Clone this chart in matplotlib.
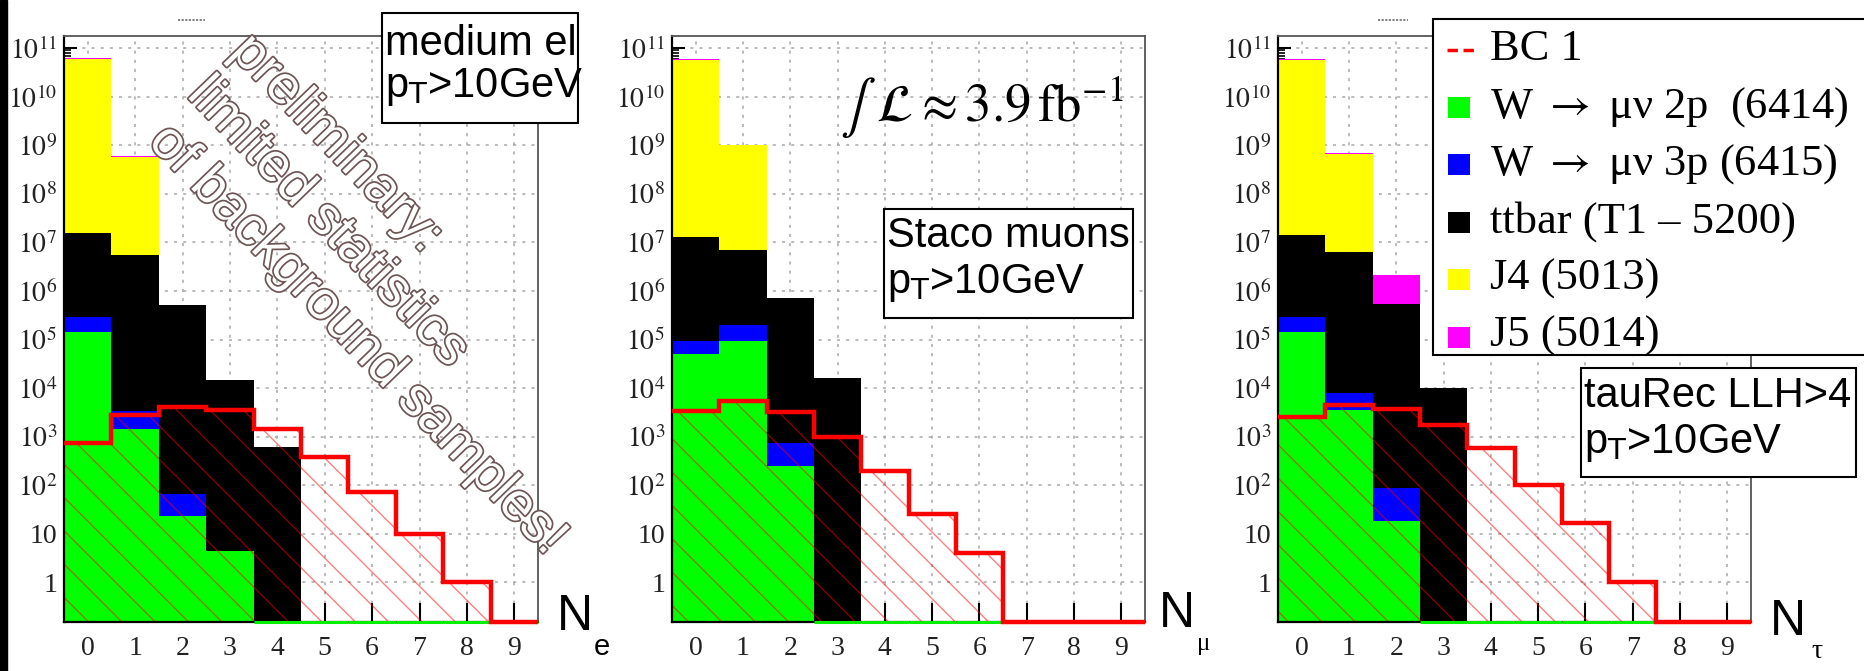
import numpy as np
import matplotlib
matplotlib.use("Agg")
import matplotlib.pyplot as plt
import matplotlib.patheffects as pe
from matplotlib.patches import Rectangle
from matplotlib.lines import Line2D
from matplotlib.transforms import Affine2D
from matplotlib.ticker import FixedLocator, FuncFormatter, NullFormatter

plt.rcParams['font.family'] = ['Liberation Serif', 'DejaVu Serif']
plt.rcParams['mathtext.fontset'] = 'stix'
plt.rcParams['hatch.linewidth'] = 1.0

# multiplicity bins 0..9
n_obj = np.arange(10)
edges = np.arange(11) - 0.5

sample_names = ["W $\\rightarrow$ \u03bc\u03bd 2p  (6414)",
                "W $\\rightarrow$ \u03bc\u03bd 3p (6415)",
                "ttbar (T1 \u2013 5200)", "J4 (5013)", "J5 (5014)"]
sample_colors = ["#00ff00", "#0000ff", "#000000", "#ffff00", "#ff00ff"]
signal_name = "BC 1"

# electrons
w2p_e = [1.43e5, 1.44e3, 23, 4.4, 0, 0, 0, 0, 0, 0]
w3p_e = [1.47e5, 2.0e3, 43, 0, 0, 0, 0, 0, 0, 0]
ttbar_e = [1.54e7, 5.5e6, 5.2e5, 1.5e4, 620, 0, 0, 0, 0, 0]
j4_e = [5.9e10, 5.7e8, 0, 0, 0, 0, 0, 0, 0, 0]
j5_e = [3.5e9, 3.5e7, 0, 0, 0, 0, 0, 0, 0, 0]
bc1_e = [727, 2.8e3, 4.1e3, 3.5e3, 1.44e3, 386, 74, 10, 1, 0]

# muons
w2p_m = [5.0e4, 9.5e4, 250, 0, 0, 0, 0, 0, 0, 0]
w3p_m = [4.3e4, 1.05e5, 480, 0, 0, 0, 0, 0, 0, 0]
ttbar_m = [1.29e7, 6.8e6, 7.3e5, 1.6e4, 0, 0, 0, 0, 0, 0]
j4_m = [5.8e10, 1.0e9, 0, 0, 0, 0, 0, 0, 0, 0]
j5_m = [3.5e9, 0, 0, 0, 0, 0, 0, 0, 0, 0]
bc1_m = [3.4e3, 5.4e3, 3.2e3, 1.0e3, 200, 25, 4.1, 0, 0, 0]

# taus
w2p_t = [1.4e5, 3.6e3, 18, 0, 0, 0, 0, 0, 0, 0]
w3p_t = [1.5e5, 4.2e3, 68, 0, 0, 0, 0, 0, 0, 0]
ttbar_t = [1.37e7, 6.3e6, 5.4e5, 1.0e4, 0, 0, 0, 0, 0, 0]
j4_t = [5.8e10, 6.5e8, 0, 0, 0, 0, 0, 0, 0, 0]
j5_t = [3.5e9, 3.5e7, 1.56e6, 0, 0, 0, 0, 0, 0, 0]
bc1_t = [2.5e3, 4.5e3, 3.7e3, 1.74e3, 575, 100, 16.6, 1, 0, 0]

YMIN, YMAX = 0.152, 1.79e11
decades = 10.0 ** np.arange(0, 12)
minors = np.array([d * k for d in 10.0 ** np.arange(-1, 12) for k in range(2, 10)])
minors = minors[(minors > YMIN) & (minors < YMAX)]

W, H = 1864, 671
fig = plt.figure(figsize=(W / 100, H / 100), dpi=100)
# pixel coordinates, origin top left
pix = Affine2D().scale(1.0 / W, -1.0 / H).translate(0, 1) + fig.transFigure


def log_label(v, pos):
    e = int(round(np.log10(v)))
    if e == 0:
        return "1"
    if e == 1:
        return "10"
    return r"$10^{%d}$" % e


def draw_panel(x0, x1, comps, bc1):
    ax = fig.add_axes([x0 / W, 1 - 622 / H, (x1 - x0) / W, (622 - 36) / H])
    ax.set_yscale('log')
    stack = np.cumsum(np.array(comps, dtype=float), axis=0)
    # ROOT style stack: biggest cumulative first, lower samples painted over it
    for i in reversed(range(len(comps))):
        ax.bar(n_obj, stack[i], width=1.0, bottom=1e-3, color=sample_colors[i],
               linewidth=0, zorder=1)
    w2p = np.array(comps[0])
    empty = w2p <= 0
    ax.hlines(np.full(empty.sum(), YMIN), edges[:-1][empty], edges[1:][empty],
              color="#00ee00", lw=2.2, clip_on=False, zorder=2.6)

    bc1 = np.array(bc1, dtype=float)
    ax.bar(n_obj, bc1, width=1.0, bottom=1e-3, facecolor='none',
           edgecolor=(1, 0, 0, 0.5), hatch='\\', linewidth=0, zorder=2.2)
    ax.stairs(np.where(bc1 > 0, bc1, YMIN), edges, baseline=None, color='red',
              lw=3.2, clip_on=False, zorder=3)

    ax.set_xlim(-0.5, 9.5)
    ax.set_ylim(YMIN, YMAX)
    ax.set_xticks(n_obj)
    ax.set_xticklabels([str(i) for i in n_obj])
    ax.yaxis.set_major_locator(FixedLocator(decades))
    ax.yaxis.set_minor_locator(FixedLocator(minors))
    ax.yaxis.set_major_formatter(FuncFormatter(log_label))
    ax.yaxis.set_minor_formatter(NullFormatter())
    ax.tick_params(axis='y', which='major', direction='in', length=9.5, width=1.5,
                   pad=5, labelsize=20, labelcolor='#222222', right=False)
    ax.tick_params(axis='y', which='minor', direction='in', length=5, width=1.2, right=False)
    ax.tick_params(axis='x', which='major', direction='in', length=13.5, width=1.5,
                   pad=10, labelsize=20, labelcolor='#222222', top=False)
    ax.grid(True, which='major', color='#a8a8a8', ls=(0, (2, 4)), lw=1.1)
    ax.set_axisbelow(True)
    for s in ('left', 'bottom'):
        ax.spines[s].set_color('black')
        ax.spines[s].set_linewidth(1.6)
    for s in ('top', 'right'):
        ax.spines[s].set_color('#555555')
        ax.spines[s].set_linewidth(1.3)
    return ax


draw_panel(64, 538, [w2p_e, w3p_e, ttbar_e, j4_e, j5_e], bc1_e)
draw_panel(672, 1145, [w2p_m, w3p_m, ttbar_m, j4_m, j5_m], bc1_m)
draw_panel(1278, 1751, [w2p_t, w3p_t, ttbar_t, j4_t, j5_t], bc1_t)

sans = ['Liberation Sans', 'DejaVu Sans']
serif = ['Liberation Serif', 'DejaVu Serif']

# black strip on the left border
fig.add_artist(Rectangle((0, 0), 7, H, transform=pix, color='black', zorder=5))

# tiny title remnants
for xa, xb in ((178, 205), (1378, 1408)):
    fig.add_artist(Line2D([xa, xb], [20, 20], transform=pix, color='#777777',
                          ls=(0, (1.2, 0.8)), lw=1.3))


def label_box(x0, y0, x1, y1, lines, baselines):
    fig.add_artist(Rectangle((x0, y0), x1 - x0, y1 - y0, transform=pix,
                             facecolor='white', edgecolor='black', lw=1.5, zorder=4))
    for s, yb in zip(lines, baselines):
        fig.text(x0 + 3, yb, s, transform=pix, fontsize=30, family=sans,
                 math_fontfamily='dejavusans', ha='left', va='baseline', zorder=6)


pt_cut = r"p$_{\mathrm{T}}$>10GeV"
label_box(382, 13, 578, 123, ["medium el", pt_cut], [55, 97])
label_box(884, 209, 1133, 318, ["Staco muons", pt_cut], [247, 293])
label_box(1581, 368, 1856, 477, ["tauRec LLH>4", pt_cut], [407, 453])

# axis titles
fig.text(557, 630, "N", transform=pix, fontsize=36, family=sans, va='baseline')
fig.text(594, 655, "e", transform=pix, fontsize=21, family=sans, va='baseline')
fig.text(1159, 627, "N", transform=pix, fontsize=36, family=sans, va='baseline')
fig.text(1197, 650, "\u03bc", transform=pix, fontsize=18, family=serif, va='baseline')
fig.text(1770, 635, "N", transform=pix, fontsize=36, family=sans, va='baseline')
fig.text(1811, 658, "\u03c4", transform=pix, fontsize=20, family=serif, va='baseline')

# luminosity
fig.text(840, 122, r"$\int\ \mathcal{L}\approx 3.9\,\mathrm{fb}^{-1}$", transform=pix,
         fontsize=38, ha='left', va='baseline')

# watermark
watermark = ["preliminary:", "limited statistics", "of background samples!"]
for s, (xs, ys) in zip(watermark, [(229, 53), (186, 96), (147, 143)]):
    fig.text(xs, ys, s, transform=pix, rotation=-46, rotation_mode='anchor',
             ha='left', va='baseline', fontsize=39, family=sans, color='white',
             path_effects=[pe.withStroke(linewidth=2.5, foreground='#6e5555')], zorder=6)

# legend
fig.add_artist(Rectangle((1433, 19), 460, 336, transform=pix, facecolor='white',
                         edgecolor='black', lw=1.5, zorder=7))
entry_y = 50 + 57.4 * np.arange(len(sample_names) + 1)
fig.add_artist(Line2D([1447, 1474], [entry_y[0], entry_y[0]], transform=pix,
                      color='red', lw=2.5, ls=(0, (3, 1.6)), zorder=8))
fig.text(1490, entry_y[0] + 10, signal_name, transform=pix, fontsize=32, family=serif,
         va='baseline', zorder=8)
for name, col, cy in zip(sample_names, sample_colors, entry_y[1:]):
    fig.add_artist(Rectangle((1448, cy - 10.5), 22, 21, transform=pix, facecolor=col,
                             edgecolor='none', zorder=8))
    fig.text(1490, cy + 10, name, transform=pix, fontsize=32, family=serif,
             va='baseline', zorder=8)

fig.savefig("out.png", dpi=100)
